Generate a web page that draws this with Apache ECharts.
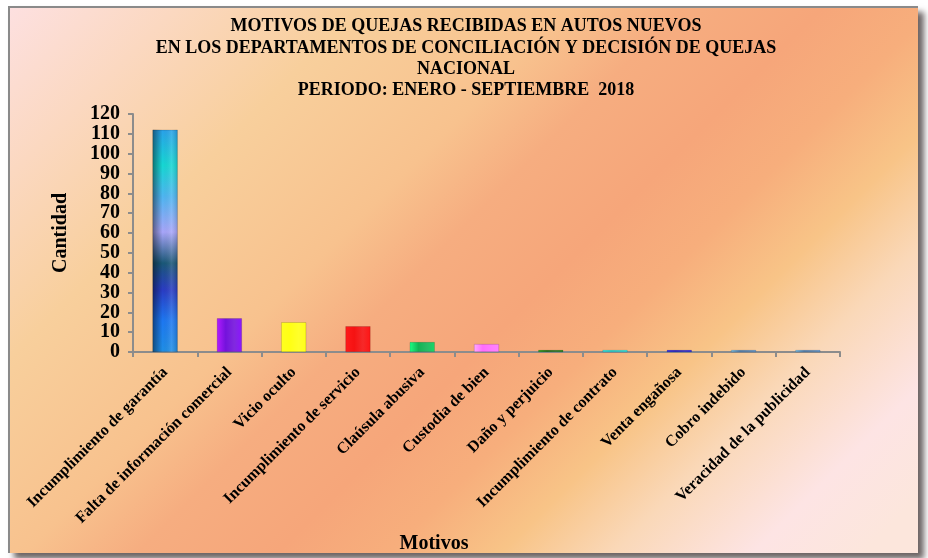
<!DOCTYPE html>
<html>
<head>
<meta charset="utf-8">
<script src="https://cdn.jsdelivr.net/npm/echarts@6/dist/echarts.min.js"></script>
<style>
  html, body { margin: 0; padding: 0; background: #fff; }
  #main {
    position: absolute; left: 8px; top: 6px; width: 908px; height: 545px;
    border: 2px solid #8a8a8a; border-right: none; border-bottom: none;
    box-shadow: 6px 6px 6px rgba(60,50,50,0.75);
  }
</style>
</head>
<body>
<div id="main"></div>
<script>
// categorías y cantidades
const motivos = [
  'Incumplimiento de garantía',
  'Falta de información comercial',
  'Vicio oculto',
  'Incumplimiento de servicio',
  'Claúsula abusiva',
  'Custodia de bien',
  'Daño y perjuicio',
  'Incumplimiento de contrato',
  'Venta engañosa',
  'Cobro indebido',
  'Veracidad de la publicidad'
];
const cantidad = [112, 17, 15, 13, 5, 4, 1, 1, 1, 0, 0];
const yTicks = [0, 10, 20, 30, 40, 50, 60, 70, 80, 90, 100, 110, 120];

const barColors = ['#1e8fe8', '#7412dc', '#ffff14', '#f51212', '#12b455', '#ff6cff',
  '#0e700e', '#14e6e6', '#1414dc', '#4a84c0', '#4a84c0'];

const serif = '"Liberation Serif", "Times New Roman", serif';

const myChart = echarts.init(document.getElementById('main'));

const cylinder = c => new echarts.graphic.LinearGradient(0, 0, 1, 0, [
  { offset: 0, color: echarts.color.lift(c, -0.55) },
  { offset: 0.35, color: c },
  { offset: 0.7, color: echarts.color.lift(c, 0.1) },
  { offset: 1, color: echarts.color.lift(c, -0.2) }
]);

// primera barra con degradado vertical multicolor
const firstBar = new echarts.graphic.LinearGradient(0, 0, 0, 1, [
  { offset: 0, color: '#2aa2ea' },
  { offset: 0.16, color: '#16d8d4' },
  { offset: 0.3, color: '#4fb6f2' },
  { offset: 0.46, color: '#a8a6fa' },
  { offset: 0.6, color: '#1a5878' },
  { offset: 0.72, color: '#2a3cc4' },
  { offset: 0.86, color: '#1d78f2' },
  { offset: 1, color: '#1f8fe6' }
]);

// fondo degradado en diagonal (coordenadas globales)
const fondo = new echarts.graphic.LinearGradient(0, 0, 700, 700, [
  { offset: 0, color: '#fde0e0' },
  { offset: 0.12, color: '#fbd8c0' },
  { offset: 0.25, color: '#f8cf9c' },
  { offset: 0.4, color: '#f8c28e' },
  { offset: 0.48, color: '#f6ad80' },
  { offset: 0.58, color: '#f6a67a' },
  { offset: 0.66, color: '#f7ae7c' },
  { offset: 0.74, color: '#f8c487' },
  { offset: 0.82, color: '#fad8b8' },
  { offset: 0.92, color: '#fde4e4' },
  { offset: 1, color: '#fce6dc' }
], true);

myChart.setOption({
  backgroundColor: fondo,
  title: [
    {
      text: 'MOTIVOS DE QUEJAS RECIBIDAS EN AUTOS NUEVOS\nEN LOS DEPARTAMENTOS DE CONCILIACIÓN Y DECISIÓN DE QUEJAS\nNACIONAL\nPERIODO: ENERO - SEPTIEMBRE  2018',
      left: 451, top: 3, textAlign: 'center',
      textStyle: { fontFamily: serif, fontWeight: 'bold', fontSize: 18, lineHeight: 21.3, color: '#000' }
    },
    {
      text: 'Motivos',
      left: 419, top: 521, textAlign: 'center',
      textStyle: { fontFamily: serif, fontWeight: 'bold', fontSize: 20, color: '#000' }
    }
  ],
  grid: { left: 123, right: 78, top: 106, bottom: 201 },
  xAxis: {
    type: 'category',
    data: motivos,
    axisLine: { lineStyle: { color: '#8c8c8c', width: 2 } },
    axisTick: { show: true, length: 5, lineStyle: { color: '#8c8c8c', width: 2 } },
    axisLabel: {
      interval: 0, rotate: 45, margin: 18, color: '#000',
      fontFamily: serif, fontWeight: 'bold', fontSize: 16
    }
  },
  yAxis: {
    type: 'value',
    min: 0, max: 120, interval: 10,
    name: 'Cantidad', nameLocation: 'middle', nameGap: 62, nameRotate: 90,
    nameTextStyle: { fontFamily: serif, fontWeight: 'bold', fontSize: 20, color: '#000' },
    axisLine: { show: true, lineStyle: { color: '#8c8c8c', width: 2 } },
    axisTick: { show: true, length: 5, lineStyle: { color: '#8c8c8c', width: 2 } },
    splitLine: { show: false },
    axisLabel: {
      margin: 13, color: '#000', fontFamily: serif, fontWeight: 'bold', fontSize: 20,
      formatter: v => yTicks.includes(v) ? String(v) : ''
    }
  },
  series: [
    {
      type: 'bar',
      barWidth: 25,
      barMinHeight: 2,
      data: cantidad.map((v, i) => ({
        value: v,
        itemStyle: {
          color: i === 0 ? firstBar : cylinder(barColors[i]),
          borderColor: 'rgba(0,0,0,0.15)', borderWidth: 0.5
        }
      }))
    },
    {
      // sombreado cilíndrico sobre la primera barra
      type: 'bar',
      barWidth: 25,
      barGap: '-100%',
      barMinHeight: 2,
      silent: true,
      data: cantidad.map((v, i) => i === 0 ? v : '-'),
      itemStyle: {
        color: new echarts.graphic.LinearGradient(0, 0, 1, 0, [
          { offset: 0, color: 'rgba(0,0,0,0.45)' },
          { offset: 0.4, color: 'rgba(0,0,0,0)' },
          { offset: 0.75, color: 'rgba(255,255,255,0.12)' },
          { offset: 1, color: 'rgba(0,0,0,0.15)' }
        ])
      }
    }
  ]
});
</script>
</body>
</html>
